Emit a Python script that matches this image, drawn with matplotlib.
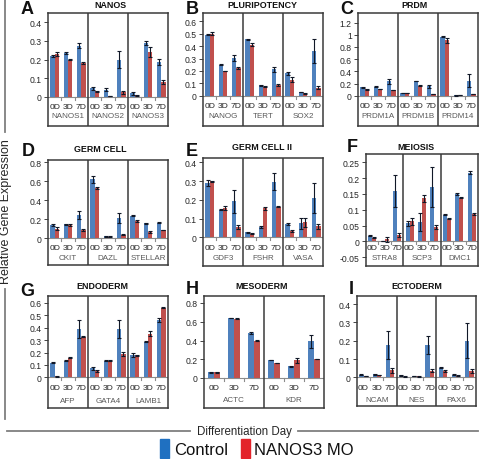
import matplotlib
matplotlib.use("Agg")
import matplotlib.pyplot as plt
import matplotlib.transforms as mtransforms
from matplotlib.patches import Rectangle
import numpy as np

plt.rcParams['font.family'] = ['Liberation Sans', 'DejaVu Sans']

days = ["0D", "3D", "7D"]

# ---------------- data ----------------
nanos_genes = ["NANOS1", "NANOS2", "NANOS3"]
nanos_ctrl = [0.22, 0.235, 0.275, 0.045, 0.038, 0.20, 0.018, 0.288, 0.187]
nanos_ctrl_err = [0.004, 0.004, 0.015, 0.008, 0.008, 0.045, 0.007, 0.012, 0.018]
nanos_mo = [0.228, 0.20, 0.18, 0.03, 0.002, 0.025, 0.008, 0.24, 0.078]
nanos_mo_err = [0.01, 0.004, 0.005, 0.003, 0.0, 0.008, 0.002, 0.025, 0.01]

plur_genes = ["NANOG", "TERT", "SOX2"]
plur_ctrl = [0.493, 0.25, 0.305, 0.455, 0.085, 0.215, 0.18, 0.03, 0.36]
plur_ctrl_err = [0.005, 0.004, 0.025, 0.005, 0.004, 0.02, 0.01, 0.003, 0.1]
plur_mo = [0.5, 0.2, 0.222, 0.41, 0.072, 0.083, 0.128, 0.018, 0.065]
plur_mo_err = [0.01, 0.003, 0.008, 0.012, 0.003, 0.008, 0.02, 0.003, 0.01]

prdm_genes = ["PRDM1A", "PRDM1B", "PRDM14"]
prdm_ctrl = [0.142, 0.147, 0.235, 0.044, 0.24, 0.153, 0.97, 0.005, 0.245]
prdm_ctrl_err = [0.008, 0.008, 0.04, 0.005, 0.006, 0.02, 0.012, 0.003, 0.11]
prdm_mo = [0.104, 0.11, 0.093, 0.044, 0.164, 0.027, 0.91, 0.01, 0.027]
prdm_mo_err = [0.006, 0.006, 0.006, 0.005, 0.006, 0.004, 0.04, 0.002, 0.005]

germ_genes = ["CKIT", "DAZL", "STELLAR"]
germ_ctrl = [0.14, 0.147, 0.245, 0.62, 0.02, 0.214, 0.24, 0.158, 0.165]
germ_ctrl_err = [0.006, 0.006, 0.04, 0.035, 0.004, 0.05, 0.004, 0.005, 0.004]
germ_mo = [0.1, 0.137, 0.088, 0.53, 0.018, 0.04, 0.18, 0.07, 0.088]
germ_mo_err = [0.015, 0.01, 0.01, 0.015, 0.003, 0.005, 0.012, 0.012, 0.004]

germ2_genes = ["GDF3", "FSHR", "VASA"]
germ2_ctrl = [0.29, 0.146, 0.192, 0.027, 0.055, 0.297, 0.069, 0.075, 0.208]
germ2_ctrl_err = [0.015, 0.003, 0.06, 0.003, 0.003, 0.045, 0.005, 0.03, 0.08]
germ2_mo = [0.298, 0.156, 0.053, 0.018, 0.155, 0.163, 0.032, 0.08, 0.058]
germ2_mo_err = [0.003, 0.01, 0.01, 0.003, 0.008, 0.004, 0.005, 0.025, 0.012]

meio_genes = ["STRA8", "SCP3", "DMC1"]
meio_ctrl = [0.018, 0.0, 0.16, 0.057, 0.06, 0.172, 0.084, 0.15, 0.217]
meio_ctrl_err = [0.002, 0.0, 0.05, 0.008, 0.028, 0.062, 0.002, 0.002, 0.005]
meio_mo = [0.012, 0.007, 0.021, 0.063, 0.136, 0.045, 0.071, 0.138, 0.087]
meio_mo_err = [0.003, 0.008, 0.006, 0.012, 0.012, 0.006, 0.002, 0.002, 0.004]

endo_genes = ["AFP", "GATA4", "LAMB1"]
endo_ctrl = [0.116, 0.134, 0.39, 0.073, 0.134, 0.39, 0.18, 0.288, 0.463]
endo_ctrl_err = [0.004, 0.005, 0.07, 0.012, 0.005, 0.07, 0.015, 0.005, 0.015]
endo_mo = [0.008, 0.158, 0.328, 0.048, 0.134, 0.188, 0.178, 0.352, 0.562]
endo_mo_err = [0.002, 0.004, 0.003, 0.008, 0.005, 0.015, 0.004, 0.02, 0.004]

meso_genes = ["ACTC", "KDR"]
meso_ctrl = [0.06, 0.64, 0.476, 0.192, 0.124, 0.39]
meso_ctrl_err = [0.004, 0.004, 0.01, 0.005, 0.004, 0.07]
meso_mo = [0.06, 0.633, 0.398, 0.16, 0.188, 0.203]
meso_mo_err = [0.004, 0.004, 0.004, 0.004, 0.03, 0.0]

ecto_genes = ["NCAM", "NES", "PAX6"]
ecto_ctrl = [0.013, 0.016, 0.176, 0.011, 0.007, 0.175, 0.053, 0.015, 0.2]
ecto_ctrl_err = [0.003, 0.003, 0.075, 0.003, 0.002, 0.05, 0.004, 0.003, 0.095]
ecto_mo = [0.007, 0.013, 0.038, 0.004, 0.005, 0.036, 0.033, 0.009, 0.036]
ecto_mo_err = [0.002, 0.002, 0.012, 0.002, 0.002, 0.008, 0.005, 0.002, 0.012]

# ---------------- layout ----------------
W, H = 480, 460
BLUE = '#4F81BD'
RED = '#C0504D'
BOX = '#3a3a3a'

fig = plt.figure(figsize=(W / 100, H / 100), dpi=100)


def ftxt(x, y, s, **kw):
    fig.text(x / W, 1 - y / H, s, **kw)


panels = [
    ("A", "NANOS", nanos_genes, nanos_ctrl, nanos_ctrl_err, nanos_mo, nanos_mo_err,
     (48, 168, 14, 127), 97.7, 186, np.arange(0, 0.41, 0.1), (27, 10), (110, 5), (10, 19), 0.32),
    ("B", "PLURIPOTENCY", plur_genes, plur_ctrl, plur_ctrl_err, plur_mo, plur_mo_err,
     (203, 323, 14, 127), 96.7, 124, np.arange(0, 0.61, 0.1), (192, 10), (262, 5), (10, 20), 0.32),
    ("C", "PRDM", prdm_genes, prdm_ctrl, prdm_ctrl_err, prdm_mo, prdm_mo_err,
     (358, 478, 14, 127), 96.7, 61, np.arange(0, 1.21, 0.2), (347, 10), (414, 5), (10, 20), 0.32),
    ("D", "GERM CELL", germ_genes, germ_ctrl, germ_ctrl_err, germ_mo, germ_mo_err,
     (48, 168, 161, 266), 239.3, 95, np.arange(0, 0.81, 0.2), (28, 152), (100, 149), (9, 19), 0.32),
    ("E", "GERM CELL II", germ2_genes, germ2_ctrl, germ2_ctrl_err, germ2_mo, germ2_mo_err,
     (203, 323, 159, 267), 238.3, 187.5, np.arange(0, 0.41, 0.1), (192, 151), (262, 147), (10, 20), 0.32),
    ("F", "MEIOSIS", meio_genes, meio_ctrl, meio_ctrl_err, meio_mo, meio_mo_err,
     (366, 478, 155, 267), 242.3, 316, np.arange(-0.05, 0.26, 0.05), (352, 148), (416, 147), (6, 16), 0.32),
    ("G", "ENDODERM", endo_genes, endo_ctrl, endo_ctrl_err, endo_mo, endo_mo_err,
     (48, 168, 297, 409), 378.3, 124, np.arange(0, 0.61, 0.1), (27, 292), (102, 287), (10, 23), 0.32),
    ("H", "MESODERM", meso_genes, meso_ctrl, meso_ctrl_err, meso_mo, meso_mo_err,
     (204, 324, 297, 409), 379, 93.75, np.arange(0, 0.81, 0.2), (192, 289), (262, 287), (10, 22), 0.28),
    ("I", "ECTODERM", ecto_genes, ecto_ctrl, ecto_ctrl_err, ecto_mo, ecto_mo_err,
     (357, 476, 297, 407), 378.3, 183, np.arange(0, 0.41, 0.1), (351, 289), (417, 287), (10, 22), 0.32),
]


def fmt(v):
    v = round(v, 4)
    if abs(v) < 1e-9:
        return "0"
    return f"{v:g}"


for (letter, title, genes, ctrl, cerr, mo, merr, box, y0px, unit, ticks,
     lpos, tpos, offs, bw) in panels:
    bx0, bx1, by0, by1 = box
    ax = fig.add_axes([bx0 / W, 1 - by1 / H, (bx1 - bx0) / W, (by1 - by0) / H])
    ng = len(genes)
    n = 3 * ng
    ax.set_xlim(-0.5, n - 0.5)
    ax.set_ylim((y0px - by1) / unit, (y0px - by0) / unit)
    x = np.arange(n)
    ax.bar(x - bw / 2, ctrl, bw, color=BLUE, zorder=2)
    ax.bar(x + bw / 2, mo, bw, color=RED, zorder=2)
    ax.errorbar(x - bw / 2, ctrl, yerr=cerr, fmt='none', ecolor='#111827',
                elinewidth=0.8, capsize=1.6, capthick=0.8, zorder=3)
    ax.errorbar(x + bw / 2, mo, yerr=merr, fmt='none', ecolor='#111827',
                elinewidth=0.8, capsize=1.6, capthick=0.8, zorder=3)
    ax.axhline(0, color='#8c8c8c', lw=0.8, zorder=1)
    dy = 3.0 / unit
    for g in range(ng):
        for k in (0.5, 1.5):
            ax.plot([3 * g + k] * 2, [0, -dy], color='#8c8c8c', lw=0.8, zorder=1)
    for g in range(1, ng):
        ax.axvline(3 * g - 0.5, color=BOX, lw=1.1, zorder=4)
    tr_day = mtransforms.offset_copy(ax.transData, fig=fig, y=-offs[0], units='dots')
    tr_gene = mtransforms.offset_copy(ax.transData, fig=fig, y=-offs[1], units='dots')
    for i in range(n):
        ax.text(i, 0, days[i % 3], transform=tr_day, ha='center', va='center',
                fontsize=6.1, color='#262626')
    for g, name in enumerate(genes):
        ax.text(3 * g + 1, 0, name, transform=tr_gene, ha='center', va='center',
                fontsize=5.8, color='#595959')
    ax.set_xticks([])
    ax.set_yticks(ticks)
    ax.set_yticklabels([fmt(t) for t in ticks])
    ax.tick_params(axis='y', direction='out', length=3, width=0.6, pad=1.5,
                   labelsize=6.2, colors='#262626')
    for sp in ax.spines.values():
        sp.set_color(BOX)
        sp.set_linewidth(1.1)
    ax.patch.set_alpha(0)
    ftxt(lpos[0], lpos[1], letter, ha='center', va='center', fontsize=13,
         fontweight='bold', color='#111111')
    ftxt(tpos[0], tpos[1], title, ha='center', va='center', fontsize=6.4,
         fontweight='bold', color='#111111')

LINEC = '#7f7f7f'
fig.add_artist(plt.Line2D([5 / W, 5 / W], [1 - 0 / H, 1 - 133 / H],
                          color=LINEC, lw=1.3, transform=fig.transFigure))
fig.add_artist(plt.Line2D([5 / W, 5 / W], [1 - 290 / H, 1 - 420 / H],
                          color=LINEC, lw=1.3, transform=fig.transFigure))
ftxt(6, 211.5, "Relative Gene Expression", rotation=90, ha='center', va='center',
     fontsize=9, color='#262626')

fig.add_artist(plt.Line2D([7 / W, 190 / W], [1 - 432 / H] * 2,
                          color=LINEC, lw=1.3, transform=fig.transFigure))
fig.add_artist(plt.Line2D([298 / W, 478 / W], [1 - 432 / H] * 2,
                          color=LINEC, lw=1.3, transform=fig.transFigure))
ftxt(244.5, 432, "Differentiation Day", ha='center', va='center', fontsize=8.3,
     color='#262626')

fig.add_artist(Rectangle((160 / W, 1 - 459 / H), 9 / W, 19 / H, color='#1F70C1',
                         transform=fig.transFigure))
ftxt(174, 451, "Control", ha='left', va='center', fontsize=12, color='#111111')
fig.add_artist(Rectangle((241 / W, 1 - 459 / H), 9 / W, 19 / H, color='#E3232A',
                         transform=fig.transFigure))
ftxt(254, 451, "NANOS3 MO", ha='left', va='center', fontsize=12, color='#111111')

fig.savefig("out.png", dpi=100)
